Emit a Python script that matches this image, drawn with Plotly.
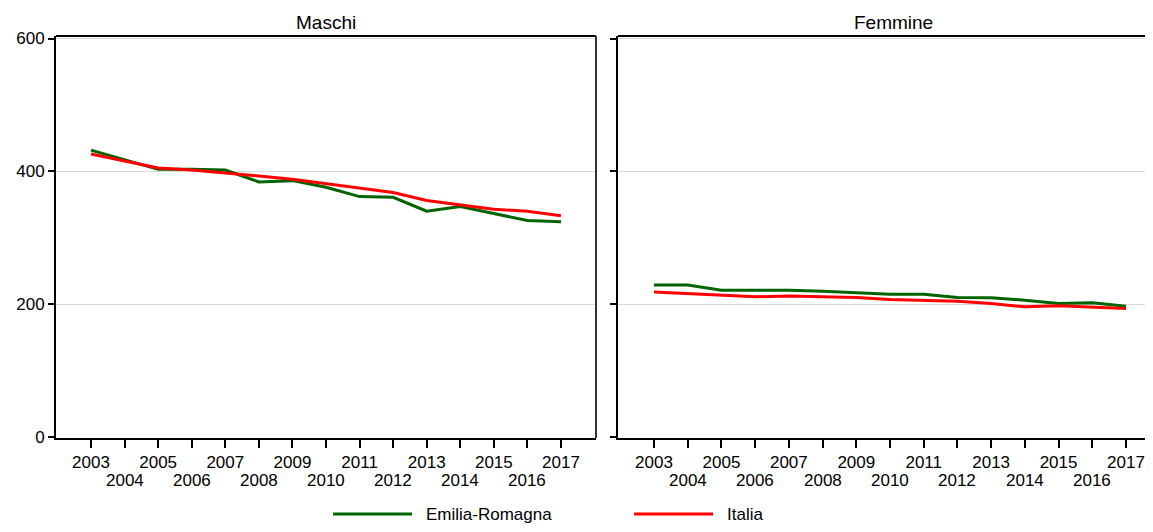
import plotly.graph_objects as go

years = list(range(2003, 2018))
panels = ["Maschi", "Femmine"]
series_names = ["Emilia-Romagna", "Italia"]
series_colors = ["#006400", "#ff0000"]

maschi_er = [432, 418, 403, 403, 402, 384, 386, 376, 362, 361, 340, 347, 336, 326, 324]
maschi_it = [426, 415, 405, 402, 398, 393, 388, 381, 374, 368, 356, 349, 343, 340, 333]
femmine_er = [229, 229, 221, 221, 221, 219.5, 217.5, 215, 215, 210, 209.5, 206, 201, 202, 197]
femmine_it = [218.5, 216, 212.5, 211, 212.5, 211.5, 210, 207, 206, 204.5, 201, 196, 197.5, 195, 193.5]

y_ticks = [0, 200, 400, 600]
odd_labels = [str(y) if y % 2 == 1 else "" for y in years]
even_years = [y for y in years if y % 2 == 0]

OFF = 8  # page body margin (on every side)
W, H = 1153 - 2 * OFF, 532 - 2 * OFF
FONT = "Liberation Sans, Arial, sans-serif"
FS = 17
TFS = 19


def rx(p):
    return (p - OFF) / W


def ry(p):
    return 1 - (p - OFF) / H


fig = go.Figure()

data = [(maschi_er, maschi_it), (femmine_er, femmine_it)]
axes = [("x", "y"), ("x2", "y2")]
for (er, it), (xa, ya) in zip(data, axes):
    for vals, name, col in zip((er, it), series_names, series_colors):
        fig.add_trace(go.Scatter(x=years, y=vals, mode="lines", name=name,
                                 line=dict(color=col, width=3),
                                 xaxis=xa, yaxis=ya, showlegend=False))

top, bottom = 36, 438
ydom = [ry(bottom), ry(top)]
left_dom = [rx(56), rx(596)]
right_dom = [rx(618), 1.0]
# right panel: 2003 at px 654, 2017 kept inside the visible page
r_right_edge = OFF + W
r_step = (1126 - 654) / 14
right_range = [2003 - (654 - 618) / r_step, 2017 + (r_right_edge - 1126) / r_step]

xcommon = dict(tickmode="array", tickvals=years, ticktext=odd_labels,
               ticks="outside", ticklen=8, tickwidth=1.5, tickcolor="black",
               showline=True, linecolor="black", linewidth=2, showgrid=False,
               zeroline=False, automargin=False,
               tickfont=dict(family=FONT, size=FS, color="black"),
               fixedrange=True)
ycommon = dict(domain=ydom, range=[-1.5, 603.8], tickvals=y_ticks,
               ticks="outside", ticklen=6, tickwidth=1.5, tickcolor="black",
               showline=True, linecolor="black", linewidth=2,
               showgrid=True, gridcolor="#d9d9d9", gridwidth=1, zeroline=False,
               automargin=False,
               tickfont=dict(family=FONT, size=FS, color="black"), fixedrange=True)
fig.update_layout(
    template="none",
    xaxis=dict(domain=left_dom, range=[2001.957, 2018.043], anchor="y", **xcommon),
    xaxis2=dict(domain=right_dom, range=right_range, anchor="y2", **xcommon),
    yaxis=dict(anchor="x", **ycommon),
    yaxis2=dict(anchor="x2", showticklabels=False, **ycommon),
    width=W, height=H,
    margin=dict(l=0, r=0, t=0, b=0, pad=0, autoexpand=False),
    paper_bgcolor="white", plot_bgcolor="white",
    font=dict(family=FONT, size=FS, color="black"),
    showlegend=False,
)

# even-year labels on a second row
for xr in ("x", "x2"):
    for y in even_years:
        fig.add_annotation(x=y, xref=xr, y=ry(480), yref="paper",
                           text=str(y), showarrow=False,
                           xanchor="center", yanchor="middle",
                           font=dict(family=FONT, size=FS, color="black"))

# panel borders (top + right of left panel, top of right panel)
fig.add_shape(type="line", xref="paper", yref="paper", x0=left_dom[0], x1=left_dom[1],
              y0=ydom[1], y1=ydom[1], line=dict(color="black", width=2))
fig.add_shape(type="line", xref="paper", yref="paper", x0=left_dom[1], x1=left_dom[1],
              y0=ydom[0], y1=ydom[1], line=dict(color="#333333", width=2))
fig.add_shape(type="line", xref="paper", yref="paper", x0=right_dom[0], x1=right_dom[1],
              y0=ydom[1], y1=ydom[1], line=dict(color="black", width=2))

# panel titles
for t, cx in zip(panels, (326, 893)):
    fig.add_annotation(x=rx(cx), y=ry(22), xref="paper", yref="paper", text=t,
                       showarrow=False, xanchor="center", yanchor="middle",
                       font=dict(family=FONT, size=TFS, color="black"))

# legend
for name, col, x0 in zip(series_names, series_colors, (333, 634)):
    fig.add_shape(type="line", xref="paper", yref="paper", x0=rx(x0), x1=rx(x0 + 79),
                  y0=ry(514), y1=ry(514), line=dict(color=col, width=3))
    fig.add_annotation(x=rx(x0 + 91), y=ry(514), xref="paper", yref="paper", text=name,
                       showarrow=False, xanchor="left", yanchor="middle",
                       font=dict(family=FONT, size=FS, color="black"))

fig.write_html("out.html")
